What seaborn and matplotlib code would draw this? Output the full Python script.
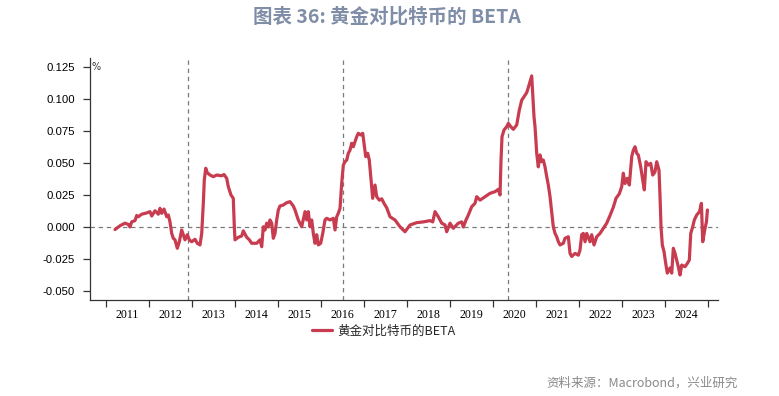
import numpy as np
import pandas as pd
import matplotlib
matplotlib.use("Agg")
import matplotlib.pyplot as plt
import matplotlib.transforms as mtransforms
import seaborn as sns

# ---- data (decimal year, beta) ----
t_years = [
    2011.216, 2011.333, 2011.449, 2011.526, 2011.565, 2011.605, 2011.681, 2011.721, 2011.758, 2011.837,
    2011.953, 2012.030, 2012.070, 2012.147, 2012.223, 2012.263, 2012.302, 2012.356, 2012.419, 2012.456,
    2012.495, 2012.535, 2012.572, 2012.612, 2012.665, 2012.712, 2012.767, 2012.805, 2012.844, 2012.898,
    2012.944, 2013.000, 2013.077, 2013.130, 2013.193, 2013.233, 2013.270, 2013.293, 2013.326, 2013.363,
    2013.426, 2013.502, 2013.581, 2013.698, 2013.751, 2013.814, 2013.851, 2013.914, 2013.967, 2013.991,
    2014.007, 2014.084, 2014.163, 2014.200, 2014.279, 2014.340, 2014.395, 2014.512, 2014.588, 2014.628,
    2014.665, 2014.705, 2014.744, 2014.781, 2014.821, 2014.860, 2014.898, 2014.937, 2014.977, 2015.014,
    2015.053, 2015.130, 2015.209, 2015.286, 2015.363, 2015.402, 2015.479, 2015.558, 2015.635, 2015.674,
    2015.712, 2015.751, 2015.791, 2015.828, 2015.867, 2015.907, 2015.944, 2016.000, 2016.047, 2016.100,
    2016.140, 2016.216, 2016.293, 2016.333, 2016.372, 2016.409, 2016.449, 2016.488, 2016.526, 2016.565,
    2016.605, 2016.642, 2016.681, 2016.721, 2016.758, 2016.798, 2016.837, 2016.874, 2016.930, 2016.977,
    2017.007, 2017.047, 2017.093, 2017.130, 2017.170, 2017.209, 2017.263, 2017.302, 2017.363, 2017.419,
    2017.472, 2017.535, 2017.612, 2017.728, 2017.844, 2017.960, 2018.077, 2018.233, 2018.386, 2018.542,
    2018.605, 2018.658, 2018.735, 2018.814, 2018.891, 2018.930, 2019.007, 2019.084, 2019.200, 2019.279,
    2019.316, 2019.379, 2019.433, 2019.512, 2019.588, 2019.628, 2019.705, 2019.821, 2019.937, 2020.053,
    2020.130, 2020.170, 2020.193, 2020.216, 2020.263, 2020.326, 2020.363, 2020.419, 2020.479, 2020.558,
    2020.619, 2020.674, 2020.728, 2020.791, 2020.828, 2020.907, 2020.930, 2020.960, 2020.984, 2021.023,
    2021.060, 2021.100, 2021.140, 2021.177, 2021.216, 2021.256, 2021.293, 2021.333, 2021.372, 2021.409,
    2021.449, 2021.488, 2021.526, 2021.565, 2021.642, 2021.681, 2021.758, 2021.798, 2021.837, 2021.914,
    2021.991, 2022.030, 2022.070, 2022.107, 2022.147, 2022.186, 2022.263, 2022.302, 2022.356, 2022.419,
    2022.495, 2022.572, 2022.651, 2022.728, 2022.805, 2022.867, 2022.944, 2023.000, 2023.037, 2023.077,
    2023.130, 2023.177, 2023.233, 2023.270, 2023.309, 2023.349, 2023.386, 2023.442, 2023.488, 2023.526,
    2023.565, 2023.619, 2023.674, 2023.721, 2023.774, 2023.814, 2023.867, 2023.891, 2023.914, 2023.944,
    2023.984, 2024.023, 2024.060, 2024.123, 2024.163, 2024.200, 2024.240, 2024.279, 2024.316, 2024.356,
    2024.395, 2024.472, 2024.526, 2024.572, 2024.605, 2024.651, 2024.688, 2024.744, 2024.809, 2024.853,
    2024.884, 2024.930, 2024.970, 2024.993,
]
beta = [
    -0.0020, 0.0010, 0.0030, 0.0020, 0.0000, 0.0040, 0.0050, 0.0090, 0.0080, 0.0100,
    0.0110, 0.0120, 0.0086, 0.0127, 0.0100, 0.0146, 0.0107, 0.0140, 0.0080, 0.0094,
    0.0040, -0.0050, -0.0088, -0.0100, -0.0166, -0.0115, -0.0023, -0.0060, -0.0100, -0.0060,
    -0.0100, -0.0115, -0.0096, -0.0127, -0.0140, -0.0050, 0.0185, 0.0367, 0.0459, 0.0424,
    0.0406, 0.0393, 0.0406, 0.0400, 0.0410, 0.0380, 0.0315, 0.0250, 0.0224, 0.0002,
    -0.0100, -0.0080, -0.0070, -0.0030, -0.0080, -0.0100, -0.0127, -0.0127, -0.0100, -0.0154,
    0.0002, -0.0023, 0.0030, 0.0000, 0.0055, 0.0030, -0.0088, -0.0050, 0.0055, 0.0133,
    0.0164, 0.0172, 0.0190, 0.0198, 0.0164, 0.0133, 0.0055, 0.0002, 0.0120, 0.0055,
    0.0120, 0.0002, 0.0055, -0.0050, -0.0127, -0.0060, -0.0140, -0.0127, -0.0050, 0.0055,
    0.0068, 0.0055, 0.0068, -0.0023, 0.0080, 0.0107, 0.0146, 0.0340, 0.0484, 0.0510,
    0.0523, 0.0576, 0.0600, 0.0654, 0.0627, 0.0666, 0.0705, 0.0732, 0.0719, 0.0732,
    0.0654, 0.0550, 0.0576, 0.0523, 0.0367, 0.0224, 0.0328, 0.0237, 0.0210, 0.0220,
    0.0185, 0.0150, 0.0080, 0.0055, 0.0002, -0.0037, 0.0016, 0.0034, 0.0040, 0.0050,
    0.0040, 0.0120, 0.0080, 0.0030, 0.0016, -0.0037, 0.0030, -0.0010, 0.0030, 0.0040,
    0.0000, 0.0055, 0.0094, 0.0159, 0.0185, 0.0237, 0.0210, 0.0237, 0.0263, 0.0276,
    0.0294, 0.0250, 0.0523, 0.0705, 0.0758, 0.0784, 0.0810, 0.0784, 0.0763, 0.0797,
    0.0914, 0.0990, 0.1018, 0.1050, 0.1090, 0.1180, 0.1044, 0.0862, 0.0784, 0.0576,
    0.0470, 0.0563, 0.0510, 0.0523, 0.0470, 0.0393, 0.0328, 0.0237, 0.0120, 0.0002,
    -0.0050, -0.0076, -0.0115, -0.0140, -0.0127, -0.0088, -0.0076, -0.0206, -0.0230, -0.0206,
    -0.0220, -0.0180, -0.0060, -0.0050, -0.0115, -0.0050, -0.0115, -0.0060, -0.0140, -0.0076,
    -0.0050, -0.0010, 0.0030, 0.0090, 0.0155, 0.0224, 0.0260, 0.0315, 0.0420, 0.0340,
    0.0380, 0.0328, 0.0550, 0.0600, 0.0627, 0.0576, 0.0562, 0.0470, 0.0367, 0.0290,
    0.0510, 0.0484, 0.0497, 0.0406, 0.0430, 0.0510, 0.0445, 0.0237, 0.0002, -0.0140,
    -0.0193, -0.0284, -0.0360, -0.0320, -0.0360, -0.0166, -0.0206, -0.0258, -0.0310, -0.0375,
    -0.0297, -0.0310, -0.0284, -0.0258, -0.0050, 0.0002, 0.0055, 0.0094, 0.0120, 0.0185,
    -0.0115, -0.0023, 0.0040, 0.0133,
]
halving_years = [2012.907, 2016.519, 2020.358]
year_labels = [str(y) for y in range(2011, 2025)]
y_ticks = [-0.050, -0.025, 0.000, 0.025, 0.050, 0.075, 0.100, 0.125]
series_name = "黄金对比特币的BETA"
title = "图表 36: 黄金对比特币的 BETA"
source = "资料来源：Macrobond，兴业研究"

df = pd.DataFrame({"t": t_years, "beta": beta})

sns.set_style("ticks")
plt.rcParams["font.family"] = ["DejaVu Sans"]

W, H = 779, 396
fig = plt.figure(figsize=(W / 100, H / 100), dpi=100)
ax = fig.add_axes([90 / W, 1 - 300 / H, (718 - 90) / W, (300 - 58) / H])

LINE_COLOR = "#c83c50"
sns.lineplot(data=df, x="t", y="beta", ax=ax, color=LINE_COLOR, lw=2.3,
             label=series_name, legend=False)

dash = (0, (3.5, 3))
ax.axhline(0, color="#7a7a7a", lw=0.9, ls=dash, zorder=1)
for h in halving_years:
    ax.axvline(h, color="#7a7a7a", lw=0.9, ls=dash, zorder=1)

ax.set_xlim(2010.635, 2025.239)
ax.set_ylim(-0.0570, 0.1320)

# y axis
ax.set_yticks(y_ticks)
ax.set_yticklabels([f"{v:.3f}" for v in y_ticks], family="Liberation Sans", fontsize=8.2)
ax.tick_params(axis="y", direction="out", length=5, width=0.9, pad=6, colors="#333333", labelcolor="black")

# x axis: ticks at year boundaries, labels centred in each year
years = list(range(2011, 2026))
ax.set_xticks(years)
ax.set_xticklabels([])
ax.set_xticks([y + 0.5 for y in range(2011, 2025)], minor=True)
ax.set_xticklabels(year_labels, minor=True, family="Liberation Serif", fontsize=8.6)
ax.tick_params(axis="x", which="major", direction="out", length=5, width=0.9, colors="#333333")
ax.tick_params(axis="x", which="minor", length=0, pad=6.5, labelcolor="black")

ax.set_xlabel("")
ax.set_ylabel("")
for s in ["top", "right"]:
    ax.spines[s].set_visible(False)
for s in ["left", "bottom"]:
    ax.spines[s].set_color("#333333")
    ax.spines[s].set_linewidth(0.9)

# unit label
trans = mtransforms.blended_transform_factory(ax.transAxes, ax.transData)
ax.text(0.002, 0.125, "%", transform=trans, ha="left", va="center", fontsize=7, color="#333333")

# legend
handles, labels = ax.get_legend_handles_labels()
fig.legend(handles, labels, loc="center", bbox_to_anchor=(384 / W, 1 - 331 / H),
           frameon=False, handlelength=1.6, handletextpad=0.4,
           prop={"family": ["Noto Sans CJK SC", "DejaVu Sans"], "size": 9})

fig.text(387 / W, 1 - 17 / H, title, ha="center", va="center", fontsize=14, fontweight="bold",
         color="#7f8ea6", family=["Noto Sans CJK SC", "DejaVu Sans"])
fig.text(738 / W, 1 - 383 / H, source, ha="right", va="center", fontsize=9,
         color="#8a8a8a", family=["Noto Sans CJK SC", "DejaVu Sans"])

fig.savefig("out.png", dpi=100)
